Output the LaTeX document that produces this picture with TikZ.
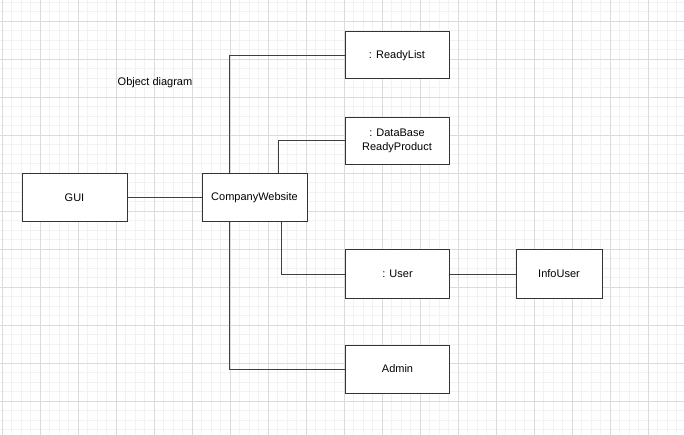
\documentclass[tikz,border=0pt]{standalone}
\usepackage{fontspec}
\setmainfont{Liberation Sans}
\usetikzlibrary{positioning}
\tikzset{
  objbox/.style={draw=black!80, line width=1pt, fill=white, minimum width=104pt, minimum height=48pt, inner sep=2pt, align=center, font=\fontsize{11}{13.5}\selectfont},
  link/.style={draw=black!75, line width=1pt},
  minorgrid/.style={draw=black!5, line width=0.6pt},
  majorgrid/.style={draw=black!14, line width=0.6pt}
}

\begin{document}
\begin{tikzpicture}[x=1pt, y=-1pt]
	\useasboundingbox (0,0) rectangle (684,435);
	% background grid
	\foreach \x in {2,11.5,...,684} \draw[minorgrid] (\x,0) -- (\x,435);
	\foreach \y in {2,11.5,...,435} \draw[minorgrid] (0,\y) -- (684,\y);
	\foreach \x in {2,40,...,684} \draw[majorgrid] (\x,0) -- (\x,435);
	\foreach \y in {21,59,...,435} \draw[majorgrid] (0,\y) -- (684,\y);
	% objects
	\node[objbox, minimum width=105pt] (gui) at (74.5,198) {GUI};
	\node[objbox, minimum width=105pt] (cw) at (254.5,198) {CompanyWebsite};
	\node[objbox, minimum height=47pt] (rl) at (397,55.5) {: ReadyList};
	\node[objbox, minimum height=47pt] (db) at (397,141) {: DataBase\\ReadyProduct};
	\node[objbox] (usr) at (397.5,274) {: User};
	\node[objbox, minimum width=86pt] (info) at (559,274) {InfoUser};
	\node[objbox] (adm) at (397.5,369) {Admin};
	\node[font=\fontsize{11}{13.5}\selectfont] (title) at (155,83) {Object diagram};
	% links
	\draw[link] (gui) -- (cw);
	\draw[link] ([xshift=-25.5pt]cw.north) |- (rl);
	\draw[link] ([xshift=23.5pt]cw.north) |- (db);
	\draw[link] ([xshift=26.5pt]cw.south) |- (usr);
	\draw[link] ([xshift=-25.5pt]cw.south) |- (adm);
	\draw[link] (usr) -- (info);
\end{tikzpicture}
\end{document}
